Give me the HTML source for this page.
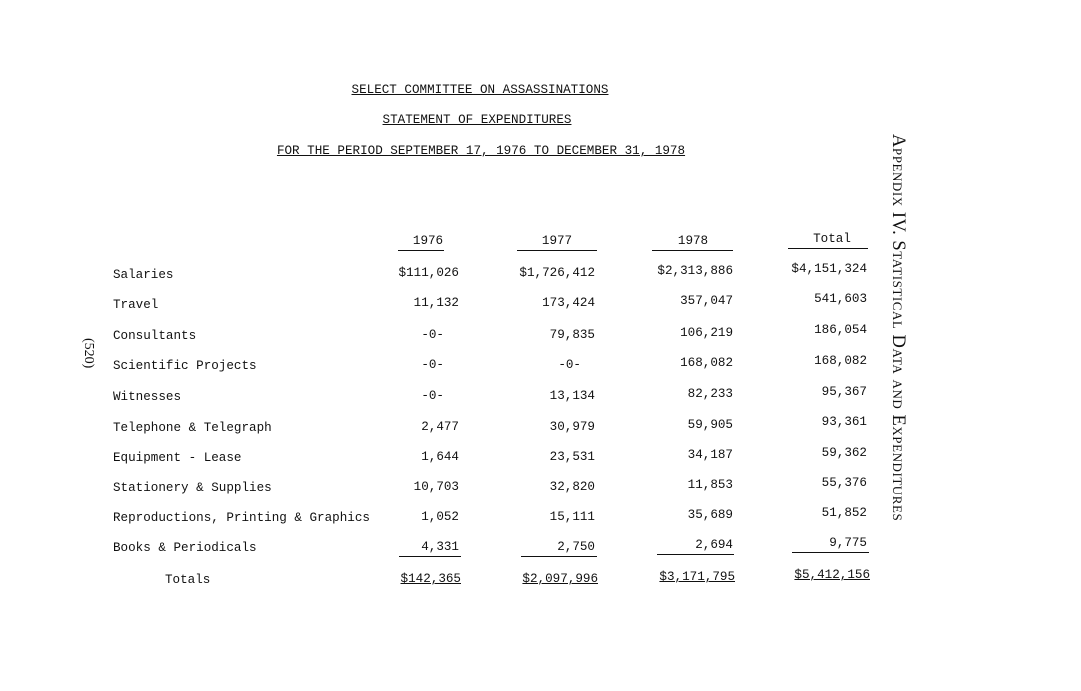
<!DOCTYPE html>
<html><head><meta charset="utf-8"><style>
body{margin:0;width:1081px;height:691px;background:#fff;position:relative;overflow:hidden;font-family:"Liberation Mono",monospace;font-size:12.6px;color:#111}
.t{position:absolute;white-space:pre;line-height:14px}
.c{transform:translateX(-50%)}
.r{transform:translateX(-100%)}
.u{text-decoration:underline}
.ul{position:absolute;height:1px;background:#111}
.v{position:absolute;white-space:nowrap;transform-origin:0 0;transform:rotate(90deg);font-family:"Liberation Serif",serif}
</style></head><body>
<div class="t c u" style="left:480px;top:83px">SELECT COMMITTEE ON ASSASSINATIONS</div>
<div class="t c u" style="left:477px;top:113px">STATEMENT OF EXPENDITURES</div>
<div class="t c u" style="left:481px;top:144px">FOR THE PERIOD SEPTEMBER 17, 1976 TO DECEMBER 31, 1978</div>

<div class="t c" style="left:428px;top:234px">1976</div><div class="ul" style="left:398px;top:250px;width:46px"></div>
<div class="t c" style="left:557px;top:234px">1977</div><div class="ul" style="left:517px;top:250px;width:80px"></div>
<div class="t c" style="left:693px;top:234px">1978</div><div class="ul" style="left:652px;top:250px;width:81px"></div>
<div class="t c" style="left:832px;top:232px">Total</div><div class="ul" style="left:788px;top:248px;width:80px"></div>

<div class="t" style="left:113px;top:268px">Salaries</div>
<div class="t" style="left:113px;top:298px">Travel</div>
<div class="t" style="left:113px;top:329px">Consultants</div>
<div class="t" style="left:113px;top:359px">Scientific Projects</div>
<div class="t" style="left:113px;top:390px">Witnesses</div>
<div class="t" style="left:113px;top:421px">Telephone &amp; Telegraph</div>
<div class="t" style="left:113px;top:451px">Equipment - Lease</div>
<div class="t" style="left:113px;top:481px">Stationery &amp; Supplies</div>
<div class="t" style="left:113px;top:511px">Reproductions, Printing &amp; Graphics</div>
<div class="t" style="left:113px;top:541px">Books &amp; Periodicals</div>
<div class="t" style="left:165px;top:573px">Totals</div>

<div class="t r" style="left:459px;top:266px">$111,026</div>
<div class="t r" style="left:459px;top:296px">11,132</div>
<div class="t r" style="left:444px;top:328px">-0-</div>
<div class="t r" style="left:444px;top:358px">-0-</div>
<div class="t r" style="left:444px;top:389px">-0-</div>
<div class="t r" style="left:459px;top:420px">2,477</div>
<div class="t r" style="left:459px;top:450px">1,644</div>
<div class="t r" style="left:459px;top:480px">10,703</div>
<div class="t r" style="left:459px;top:510px">1,052</div>
<div class="t r" style="left:459px;top:540px">4,331</div>
<div class="ul" style="left:399px;top:556px;width:62px"></div>
<div class="t r u" style="left:461px;top:572px">$142,365</div>

<div class="t r" style="left:595px;top:266px">$1,726,412</div>
<div class="t r" style="left:595px;top:296px">173,424</div>
<div class="t r" style="left:595px;top:328px">79,835</div>
<div class="t r" style="left:581px;top:358px">-0-</div>
<div class="t r" style="left:595px;top:389px">13,134</div>
<div class="t r" style="left:595px;top:420px">30,979</div>
<div class="t r" style="left:595px;top:450px">23,531</div>
<div class="t r" style="left:595px;top:480px">32,820</div>
<div class="t r" style="left:595px;top:510px">15,111</div>
<div class="t r" style="left:595px;top:540px">2,750</div>
<div class="ul" style="left:521px;top:556px;width:76px"></div>
<div class="t r u" style="left:598px;top:572px">$2,097,996</div>

<div class="t r" style="left:733px;top:264px">$2,313,886</div>
<div class="t r" style="left:733px;top:294px">357,047</div>
<div class="t r" style="left:733px;top:326px">106,219</div>
<div class="t r" style="left:733px;top:356px">168,082</div>
<div class="t r" style="left:733px;top:387px">82,233</div>
<div class="t r" style="left:733px;top:418px">59,905</div>
<div class="t r" style="left:733px;top:448px">34,187</div>
<div class="t r" style="left:733px;top:478px">11,853</div>
<div class="t r" style="left:733px;top:508px">35,689</div>
<div class="t r" style="left:733px;top:538px">2,694</div>
<div class="ul" style="left:657px;top:554px;width:77px"></div>
<div class="t r u" style="left:735px;top:570px">$3,171,795</div>

<div class="t r" style="left:867px;top:262px">$4,151,324</div>
<div class="t r" style="left:867px;top:292px">541,603</div>
<div class="t r" style="left:867px;top:323px">186,054</div>
<div class="t r" style="left:867px;top:354px">168,082</div>
<div class="t r" style="left:867px;top:385px">95,367</div>
<div class="t r" style="left:867px;top:415px">93,361</div>
<div class="t r" style="left:867px;top:446px">59,362</div>
<div class="t r" style="left:867px;top:476px">55,376</div>
<div class="t r" style="left:867px;top:506px">51,852</div>
<div class="t r" style="left:867px;top:536px">9,775</div>
<div class="ul" style="left:792px;top:552px;width:77px"></div>
<div class="t r u" style="left:870px;top:568px">$5,412,156</div>

<div class="v" style="left:908px;top:134px;font-size:18.5px;font-variant:small-caps;letter-spacing:0.55px">Appendix IV. Statistical Data and Expenditures</div>
<div class="v" style="left:96px;top:338px;font-size:14px">(520)</div>
</body></html>
